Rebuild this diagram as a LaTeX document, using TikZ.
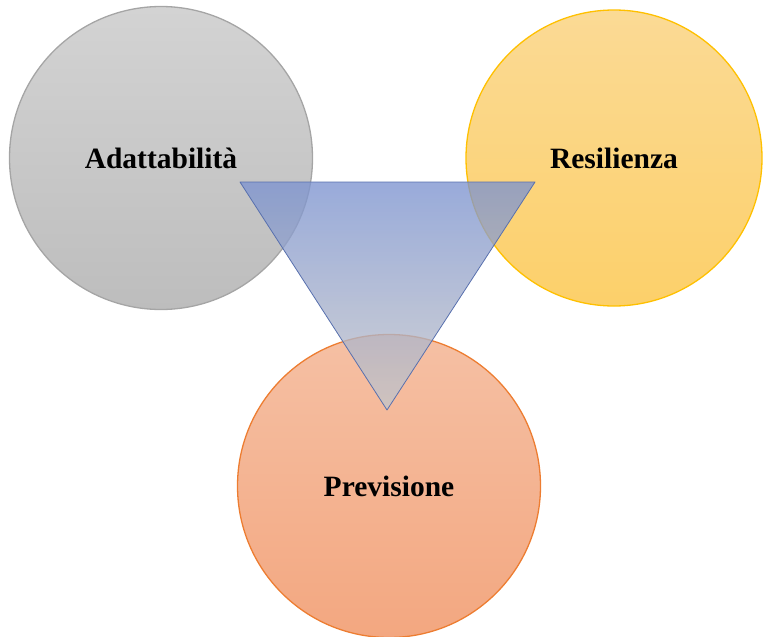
\documentclass[tikz,border=0pt]{standalone}
\usepackage{fontspec}
\setmainfont{Liberation Serif}
\usetikzlibrary{positioning,shapes.geometric}
\definecolor{grigioTop}{HTML}{D3D3D3}
\definecolor{grigioBot}{HTML}{BDBDBD}
\definecolor{grigioBordo}{HTML}{A5A5A5}
\definecolor{gialloTop}{HTML}{FBDA95}
\definecolor{gialloBot}{HTML}{FCD06A}
\definecolor{gialloBordo}{HTML}{FFC000}
\definecolor{salmoneTop}{HTML}{F5C0A4}
\definecolor{salmoneBot}{HTML}{F3A780}
\definecolor{salmoneBordo}{HTML}{ED7D31}
\definecolor{bluTop}{HTML}{7C93CF}
\definecolor{bluBot}{HTML}{C6C6C8}
\definecolor{bluBordo}{HTML}{5870AE}

\begin{document}
\begin{tikzpicture}[x=1pt, y=-1pt, on grid,
    font=\bfseries\fontsize{29.5}{33}\selectfont,
    cerchio/.style={circle, minimum size=303pt, inner sep=0pt, line width=1.3pt},
    triangolo/.style={draw=bluBordo, line width=0.8pt, line join=round,
      top color=bluTop, bottom color=bluBot, fill opacity=0.78}]
    \useasboundingbox (0,0) rectangle (763,637);%
    \node[cerchio, draw=grigioBordo, top color=grigioTop, bottom color=grigioBot]
      (adatt) at (161,158) {Adattabilità};%
    \node[cerchio, draw=gialloBordo, top color=gialloTop, bottom color=gialloBot,
      minimum size=296pt, right=453pt of adatt] (resil) {Resilienza};%
    \node[cerchio, draw=salmoneBordo, top color=salmoneTop, bottom color=salmoneBot,
      below right=328pt and 228pt of adatt] (prev) {Previsione};%
    % triangolo centrale
    \coordinate (tsx) at (240,182);%
    \coordinate (tdx) at (535,182);%
    \coordinate (tbasso) at (387,410);%
    \path[triangolo] (tsx) -- (tdx) -- (tbasso) -- cycle;%
  \end{tikzpicture}
\end{document}
